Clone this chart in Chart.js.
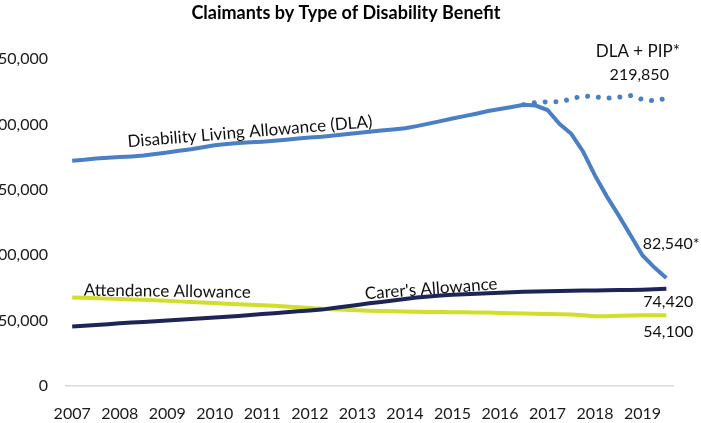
<!DOCTYPE html>
<html>
<head>
<meta charset="utf-8">
<script src="https://cdn.jsdelivr.net/npm/chart.js@4"></script>
<style>
  html, body { margin: 0; padding: 0; background: #fff; overflow: hidden; }
  #chart { display: block; }
</style>
</head>
<body>
<canvas id="chart" width="701" height="423"></canvas>
<script>
// Tick labels on the x axis (one per year, data is quarterly)
const yearTicks = [2007, 2008, 2009, 2010, 2011, 2012, 2013, 2014, 2015, 2016, 2017, 2018, 2019];

// Disability Living Allowance, quarterly from 2007
const dla = [
  172300, 173000, 174000, 174500, 175000, 175500, 176200, 177300, 178500, 179800,
  181000, 182500, 184000, 185000, 185800, 186300, 186800, 187500, 188300, 189200,
  189900, 190500, 191500, 192500, 193400, 194300, 195300, 196100, 197000, 198700,
  200600, 202500, 204500, 206300, 208200, 210300, 211700, 213300, 215000, 214400,
  211000, 200500, 192800, 179100, 160800, 144800, 130300, 115100, 99800, 90500, 82540
];

// DLA + PIP combined, only shown from mid 2016
const dlaPipValues = [215000, 216800, 217300, 217200, 219500, 221800, 221000, 220000, 220800, 222000, 219000, 218000, 219850];
const dlaPip = Array(dla.length - dlaPipValues.length).fill(null).concat(dlaPipValues);

// Carer's Allowance
const carers = [
  45500, 46000, 46600, 47300, 47900, 48500, 49000, 49500, 50000, 50600,
  51200, 51800, 52400, 53000, 53600, 54200, 55000, 55700, 56400, 57100,
  57800, 58400, 59600, 60800, 62000, 63300, 64300, 65400, 66500, 67600,
  68500, 69200, 69700, 70100, 70500, 70900, 71300, 71700, 72000, 72300,
  72500, 72700, 72900, 73000, 73100, 73200, 73300, 73400, 73600, 74000, 74420
];

// Attendance Allowance
const attendance = [
  67600, 67400, 67100, 66800, 66500, 66100, 65900, 65600, 65200, 64700,
  64300, 63900, 63400, 62900, 62500, 62100, 61800, 61300, 60800, 60200,
  59600, 59100, 58600, 58200, 57900, 57600, 57400, 57100, 56900, 56700,
  56600, 56500, 56400, 56300, 56200, 56100, 55900, 55700, 55500, 55300,
  55100, 54900, 54600, 54000, 53300, 53300, 53700, 53900, 54000, 54100, 54100
];

// x position of each quarter (years)
const quarterX = dla.map((_, i) => 2007 + i / 4);
const toPoints = arr => arr.map((v, i) => ({ x: quarterX[i], y: v }));

// Text labels placed on the chart, in data units
const chartNotes = [
  { text: 'Disability Living Allowance (DLA)', x: 2010.74, y: 194400, angle: -4.7, size: 17 },
  { text: 'Attendance Allowance', x: 2009.0, y: 72400, angle: 0.8, size: 17 },
  { text: "Carer's Allowance", x: 2014.55, y: 74300, angle: -4.3, size: 17 },
  { text: 'DLA + PIP*', x: 2018.9, y: 256100, angle: 0, size: 17 },
  { text: '219,850', x: 2018.93, y: 238200, angle: 0, size: 16 },
  { text: '82,540*', x: 2019.6, y: 109000, angle: 0, size: 16 },
  { text: '74,420', x: 2019.54, y: 64000, angle: 0, size: 16 },
  { text: '54,100', x: 2019.54, y: 41200, angle: 0, size: 16 }
];

const FONT = 'Lato, "Open Sans", sans-serif';

const notesPlugin = {
  id: 'notes',
  afterLayout(chart) {
    // let the cut-off y labels run to the page edge instead of the scale box
    chart.scales.y.left = 0;
  },
  afterDatasetsDraw(chart) {
    const { ctx, scales } = chart;
    ctx.save();
    ctx.fillStyle = '#111';
    ctx.textAlign = 'center';
    ctx.textBaseline = 'middle';
    chartNotes.forEach(n => {
      const px = scales.x.getPixelForValue(n.x);
      const py = scales.y.getPixelForValue(n.y);
      ctx.save();
      ctx.font = n.size + 'px ' + FONT;
      ctx.translate(px, py);
      ctx.rotate(n.angle * Math.PI / 180);
      ctx.fillText(n.text, 0, 0);
      ctx.restore();
    });
    ctx.restore();
  }
};

const ctx = document.getElementById('chart').getContext('2d');
new Chart(ctx, {
  type: 'line',
  data: {
    datasets: [
      {
        label: 'Disability Living Allowance (DLA)',
        data: toPoints(dla),
        borderColor: '#4a7fc6',
        borderWidth: 4,
        pointRadius: 0,
        tension: 0
      },
      {
        label: 'DLA + PIP',
        data: toPoints(dlaPip),
        borderColor: '#4a7fc6',
        borderWidth: 5,
        borderDash: [0.01, 10.8],
        borderCapStyle: 'round',
        pointRadius: 0,
        tension: 0
      },
      {
        label: "Carer's Allowance",
        data: toPoints(carers),
        borderColor: '#1d2558',
        borderWidth: 4,
        pointRadius: 0,
        tension: 0
      },
      {
        label: 'Attendance Allowance',
        data: toPoints(attendance),
        borderColor: '#d0de2c',
        borderWidth: 4,
        pointRadius: 0,
        tension: 0
      }
    ]
  },
  options: {
    responsive: false,
    animation: false,
    devicePixelRatio: 1,
    layout: { padding: { left: 19, right: 28, top: 0, bottom: 0 } },
    scales: {
      x: {
        type: 'linear',
        min: 2006.87,
        max: 2019.64,
        afterBuildTicks: scale => { scale.ticks = yearTicks.map(v => ({ value: v })); },
        afterFit: scale => { scale.height = 37; },
        grid: { display: false, drawTicks: false },
        border: { display: true, color: '#d9d9d9', width: 1.5 },
        ticks: {
          padding: 18,
          autoSkip: false,
          maxRotation: 0,
          color: '#1a1a1a',
          font: { family: FONT, size: 16 },
          callback: v => String(v)
        }
      },
      y: {
        min: 0,
        max: 250000,
        afterFit: scale => { scale.width = 47; },
        grid: { display: false, drawTicks: false },
        border: { display: false },
        ticks: {
          stepSize: 50000,
          padding: 18,
          color: '#1a1a1a',
          font: { family: FONT, size: 16 },
          callback: v => v.toLocaleString('en-US')
        }
      }
    },
    plugins: {
      legend: { display: false },
      tooltip: { enabled: false },
      title: {
        display: true,
        text: 'Claimants by Type of Disability Benefit',
        color: '#000',
        font: { family: FONT, size: 18, weight: 'bold' },
        padding: { top: 2, bottom: 35.4 }
      }
    }
  },
  plugins: [notesPlugin]
});
</script>
</body>
</html>
